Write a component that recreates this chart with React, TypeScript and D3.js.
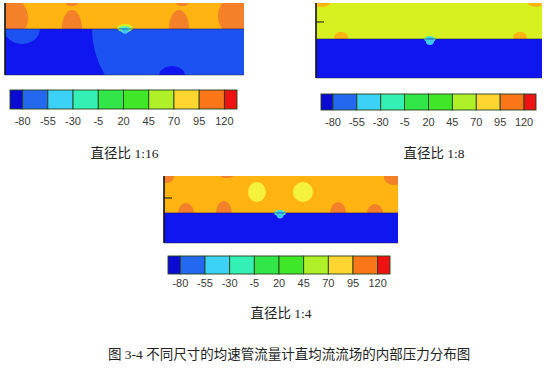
import React from "react";
import * as d3 from "d3";

// Colour-bar legend (pressure, Pa)
const legendTicks = [-80, -55, -30, -5, 20, 45, 70, 95, 120];
const legendColors = [
  "#0a0ad2", "#2468f0", "#3cd2f8", "#34f0b4", "#32e64a",
  "#40e628", "#b0f028", "#ffd530", "#fa7618", "#ee1212",
];

// Contour fill levels used inside the pressure fields
const fieldLevels = [-85, -75, -45, -10, 50, 65, 80, 100];
const fieldColors = [
  "#1016f0", "#1c52f2", "#40c8f4", "#5cf0b8", "#d6f020", "#f4f23c", "#ffb412", "#f4802a",
];

// Pressure regions: [x %, y %, rx %, ry %, level, band]
type Region = [number, number, number, number, number, string];

// Diameter ratio 1:16
const interface1 = 36.1;
const regions1: Region[] = [
  [1.3, 20.8, 8.4, 27.8, 100, "top"],
  [28.0, 36.1, 4.2, 26.4, 100, "top"],
  [28.0, 0, 2.5, 4.2, 100, "top"],
  [72.8, 36.1, 4.2, 26.4, 100, "top"],
  [74.1, 0, 2.5, 4.2, 100, "top"],
  [101.7, 18, 12.6, 34.7, 100, "top"],
  [106.7, 36.1, 70.3, 166.7, -75, "bottom"],
  [7.1, 36.1, 7.5, 20.8, -75, "bottom"],
  [69.9, 100, 5.4, 12.5, -85, "bottom"],
  [50.2, 34.7, 3.3, 5.6, 50, "all"],
  [50.2, 36.1, 2.5, 4.2, -10, "all"],
  [50.2, 38.5, 1.4, 4.2, -45, "all"],
];

// Diameter ratio 1:8
const interface2 = 48;
const regions2: Region[] = [
  [2.7, 0, 3.5, 5.3, 80, "top"],
  [97.3, 0, 3.5, 5.3, 80, "top"],
  [11.1, 45.3, 3.1, 6.7, 80, "top"],
  [90.3, 45.3, 3.1, 6.7, 80, "top"],
  [50.4, 48, 2.6, 4, -10, "all"],
  [50.4, 50.5, 1.8, 5.5, -45, "all"],
];

// Diameter ratio 1:4
const interface3 = 55.2;
const regions3: Region[] = [
  [39.7, 23.9, 3.8, 14.9, 65, "top"],
  [59.4, 23.9, 4.3, 14.9, 65, "top"],
  [9.4, 55.2, 3.4, 14.9, 100, "top"],
  [25.6, 55.2, 3.4, 17.9, 100, "top"],
  [74.4, 55.2, 3.4, 16.4, 100, "top"],
  [90.2, 55.2, 3.4, 13.4, 100, "top"],
  [0.9, 1.5, 3.4, 9, 100, "top"],
  [98.3, 1.5, 4.3, 11.9, 100, "top"],
  [26.9, 0, 2.6, 3, 100, "top"],
  [49.6, 55.2, 2.6, 4.5, -10, "all"],
  [49.6, 57.5, 1.5, 6, -45, "all"],
];

const captions = ["直径比 1:16", "直径比 1:8", "直径比 1:4"];
const figureTitle = "图 3-4 不同尺寸的均速管流量计直均流流场的内部压力分布图";

const fieldColor = d3.scaleOrdinal<number, string>().domain(fieldLevels).range(fieldColors);

type PanelProps = {
  id: string;
  box: [number, number, number, number];
  interfaceY: number;
  topLevel: number;
  bottomLevel: number;
  regions: Region[];
  tickY: number | null;
  bar: [number, number, number, number];
  labelGap: number;
  caption: string;
  captionY: number;
};

function Panel(p: PanelProps) {
  const [x0, y0, w, h] = p.box;
  const xs = d3.scaleLinear().domain([0, 100]).range([x0, x0 + w]);
  const ys = d3.scaleLinear().domain([0, 100]).range([y0, y0 + h]);
  const kx = w / 100;
  const ky = h / 100;
  const yi = ys(p.interfaceY);

  const [bx0, by0, bw, bh] = p.bar;
  const bs = d3.scaleLinear().domain([-92.5, 132.5]).range([bx0, bx0 + bw]);
  const edges = [-92.5, ...legendTicks, 132.5];

  const ell = (r: Region, i: number) => (
    <ellipse
      key={i}
      cx={xs(r[0])}
      cy={ys(r[1])}
      rx={r[2] * kx}
      ry={r[3] * ky}
      fill={fieldColor(r[4])}
    />
  );

  return (
    <g>
      <defs>
        <clipPath id={`${p.id}-top`}>
          <rect x={x0} y={y0} width={w} height={yi - y0} />
        </clipPath>
        <clipPath id={`${p.id}-bottom`}>
          <rect x={x0} y={yi} width={w} height={y0 + h - yi} />
        </clipPath>
        <clipPath id={`${p.id}-all`}>
          <rect x={x0} y={y0} width={w} height={h} />
        </clipPath>
      </defs>
      <rect x={x0} y={y0} width={w} height={yi - y0} fill={fieldColor(p.topLevel)} />
      <rect x={x0} y={yi} width={w} height={y0 + h - yi} fill={fieldColor(p.bottomLevel)} />
      {(["top", "bottom", "all"] as const).map((band) => (
        <g key={band} clipPath={`url(#${p.id}-${band})`} style={{ filter: "blur(0.6px)" }}>
          {p.regions.filter((r) => r[5] === band).map(ell)}
        </g>
      ))}
      <line x1={x0} x2={x0 + w} y1={yi} y2={yi} stroke="#101060" strokeWidth={0.8} opacity={0.7} />
      <line x1={x0} x2={x0} y1={y0} y2={y0 + h} stroke="#111" strokeWidth={1.6} />
      <line x1={x0} x2={x0 + w} y1={y0 + h} y2={y0 + h} stroke="#222" strokeWidth={0.8} opacity={0.6} />
      {p.tickY !== null && (
        <line x1={x0} x2={x0 + 8} y1={ys(p.tickY)} y2={ys(p.tickY)} stroke="#111" strokeWidth={1} />
      )}

      {legendColors.map((c, i) => (
        <rect
          key={i}
          x={bs(edges[i])}
          y={by0}
          width={bs(edges[i + 1]) - bs(edges[i])}
          height={bh}
          fill={c}
          stroke="#24401c"
          strokeWidth={0.9}
        />
      ))}
      {legendTicks.map((t) => (
        <text
          key={t}
          x={bs(t)}
          y={by0 + bh + p.labelGap}
          textAnchor="middle"
          fontFamily="Liberation Sans, Arial, sans-serif"
          fontSize={11}
          fill="#3a3a3a"
        >
          {t}
        </text>
      ))}
      <text
        x={xs(50) - (p.id === "p2" ? -5 : 0)}
        y={p.captionY}
        textAnchor="middle"
        fontFamily="Liberation Serif, Noto Sans CJK SC, serif"
        fontSize={13.5}
        fill="#222"
      >
        {p.caption}
      </text>
    </g>
  );
}

export default function App() {
  return (
    <svg
      width={545}
      height={368}
      style={{ position: "absolute", left: 0, top: 0, background: "#fff" }}
    >
      <Panel
        id="p1"
        box={[5, 3, 239, 72]}
        interfaceY={interface1}
        topLevel={80}
        bottomLevel={-85}
        regions={regions1}
        tickY={null}
        bar={[10, 90, 227, 19]}
        labelGap={16}
        caption={captions[0]}
        captionY={158}
      />
      <Panel
        id="p2"
        box={[316, 3, 226, 75]}
        interfaceY={interface2}
        topLevel={50}
        bottomLevel={-85}
        regions={regions2}
        tickY={25.3}
        bar={[321, 94, 215, 16]}
        labelGap={16}
        caption={captions[1]}
        captionY={158}
      />
      <Panel
        id="p3"
        box={[164, 176, 234, 67]}
        interfaceY={interface3}
        topLevel={80}
        bottomLevel={-85}
        regions={regions3}
        tickY={32.8}
        bar={[168, 256, 222, 18]}
        labelGap={13}
        caption={captions[2]}
        captionY={318}
      />
      <text
        x={108}
        y={359}
        fontFamily="Liberation Serif, Noto Sans CJK SC, serif"
        fontSize={13.5}
        fill="#222"
      >
        {figureTitle}
      </text>
    </svg>
  );
}
